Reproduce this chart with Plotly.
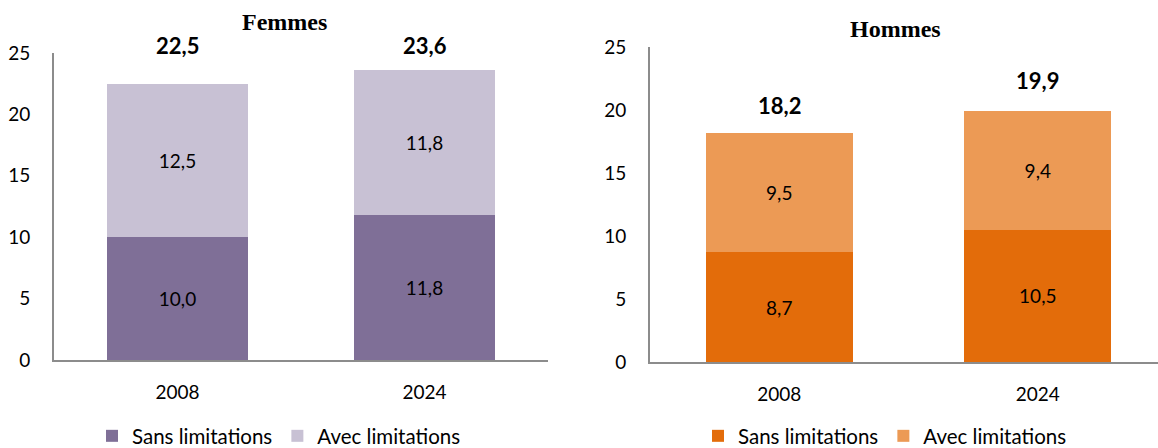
import plotly.graph_objects as go

years = ["2008", "2024"]
femmes_sans = [10.0, 11.8]
femmes_avec = [12.5, 11.8]
femmes_total = [22.5, 23.6]
hommes_sans = [8.7, 10.5]
hommes_avec = [9.5, 9.4]
hommes_total = [18.2, 19.9]
series_names = ["Sans limitations", "Avec limitations"]

# styling (not data)
total_yshift_f = [23, 9]
total_yshift_h = [12, 15]
COL_F = ["#7f6f97", "#c8c1d4"]
COL_H = ["#e36c0a", "#ec9a55"]
AXIS_COL = "#8c8c8c"
FONT = "Lato"

fig = go.Figure()

def add_bars(sans, avec, cols, xa, ya, leg):
    for vals, name, col in zip([sans, avec], series_names, cols):
        fig.add_trace(go.Bar(
            x=years, y=vals, name=name, marker=dict(color=col, line=dict(width=0)),
            texttemplate="%{y:.1f}", textposition="inside", insidetextanchor="middle",
            textangle=0, textfont=dict(family=FONT, size=19, color="black"),
            width=0.57, xaxis=xa, yaxis=ya, legend=leg, hoverinfo="skip"))

add_bars(femmes_sans, femmes_avec, COL_F, "x", "y", "legend")
add_bars(hommes_sans, hommes_avec, COL_H, "x2", "y2", "legend2")

ann = []
for i, (tot, sh) in enumerate(zip(femmes_total, total_yshift_f)):
    ann.append(dict(x=i, y=tot, xref="x", yref="y", text=f"<b>{tot:.1f}</b>".replace(".", ","),
                    showarrow=False, yanchor="bottom", yshift=sh,
                    font=dict(family=FONT, size=22, color="black")))
for i, (tot, sh) in enumerate(zip(hommes_total, total_yshift_h)):
    ann.append(dict(x=i, y=tot, xref="x2", yref="y2", text=f"<b>{tot:.1f}</b>".replace(".", ","),
                    showarrow=False, yanchor="bottom", yshift=sh,
                    font=dict(family=FONT, size=22, color="black")))
ann.append(dict(x=284/1158, y=1-22/448, xref="paper", yref="paper", text="<b>Femmes</b>",
                showarrow=False, xanchor="center", yanchor="middle",
                font=dict(family="Liberation Serif", size=24, color="black")))
ann.append(dict(x=895/1158, y=1-29/448, xref="paper", yref="paper", text="<b>Hommes</b>",
                showarrow=False, xanchor="center", yanchor="middle",
                font=dict(family="Liberation Serif", size=24, color="black")))

yax = dict(range=[0, 25], dtick=5, showgrid=False, zeroline=False, showline=True,
           linecolor=AXIS_COL, linewidth=2, ticks="", ticklabelstandoff=18,
           tickfont=dict(family=FONT, size=19, color="black"), fixedrange=True)
xax = dict(showgrid=False, zeroline=False, showline=True, linecolor=AXIS_COL, linewidth=2,
           ticks="", ticklabelstandoff=14, type="category",
           tickfont=dict(family=FONT, size=19, color="black"), fixedrange=True)

fig.update_layout(
    width=1158, height=448, margin=dict(l=0, r=0, t=0, b=0, autoexpand=False),
    paper_bgcolor="white", plot_bgcolor="white", separators=", ",
    barmode="stack", showlegend=True,
    font=dict(family=FONT, color="black"),
    xaxis=dict(xax, domain=[54/1158, 548/1158], range=[-0.5, 1.5], anchor="y"),
    yaxis=dict(yax, domain=[1-360/448, 1-53/448], anchor="x"),
    xaxis2=dict(xax, domain=[650/1158, 1.0], range=[-0.5, 1.465], anchor="y2"),
    yaxis2=dict(yax, domain=[1-362/448, 1-47/448], anchor="x2"),
    legend=dict(orientation="h", x=92/1158, y=1-436/448, xanchor="left", yanchor="middle",
                font=dict(family=FONT, size=20.5, color="black"), bgcolor="rgba(0,0,0,0)",
                traceorder="normal"),
    legend2=dict(orientation="h", x=698/1158, y=1-436/448, xanchor="left", yanchor="middle",
                 font=dict(family=FONT, size=20.5, color="black"), bgcolor="rgba(0,0,0,0)",
                 traceorder="normal"),
    annotations=ann,
)

fig.write_html("out.html", config={"displayModeBar": False},
               post_script="document.body.style.margin='0';document.body.style.overflow='hidden';")
